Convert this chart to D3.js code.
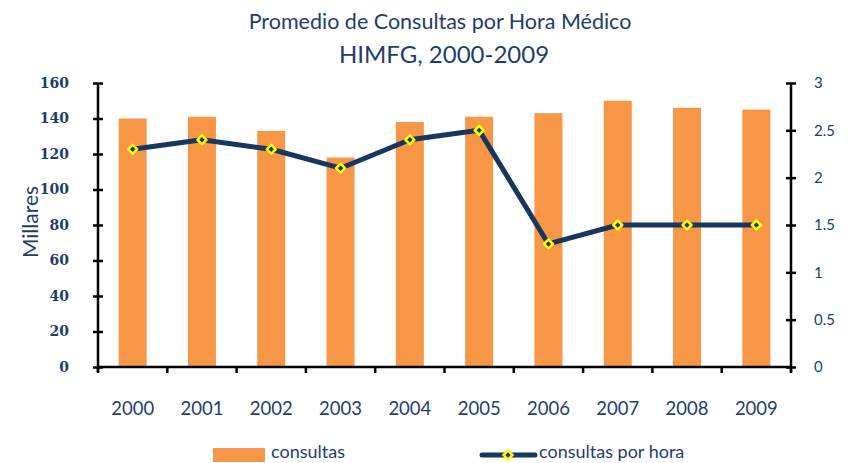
<!DOCTYPE html>
<html>
<head>
<meta charset="utf-8">
<script src="https://cdn.jsdelivr.net/npm/d3@7"></script>
<style>
  body { margin: 0; background: #fff; }
  svg { display: block; }
  .lbl { fill: #1f3d6b; font-family: "Lato", sans-serif; }
</style>
</head>
<body>
<div id="chart"></div>
<script>
// data
var years = ["2000", "2001", "2002", "2003", "2004", "2005", "2006", "2007", "2008", "2009"];
var consultas = [140, 141, 133, 118, 138, 141, 143, 150, 146, 145];  // millares
var porHora = [2.3, 2.4, 2.3, 2.1, 2.4, 2.5, 1.3, 1.5, 1.5, 1.5];
var leftTicks = [0, 20, 40, 60, 80, 100, 120, 140, 160];
var rightTicks = [0, 0.5, 1, 1.5, 2, 2.5, 3];

var width = 858, height = 463;
var plot = { left: 98, right: 791, top: 83, bottom: 367 };

var svg = d3.select("#chart").append("svg")
    .attr("width", width).attr("height", height);

var xb = d3.scaleBand().domain(years).range([plot.left, plot.right]);
var yL = d3.scaleLinear().domain([0, 160]).range([plot.bottom, plot.top]);
var yR = d3.scaleLinear().domain([0, 3]).range([plot.bottom, plot.top]);

function cx(i) { return xb(years[i]) + xb.bandwidth() / 2; }

//bars
svg.append("g").selectAll("rect").data(consultas).enter().append("rect")
    .attr("x", function (d, i) { return cx(i) - 14; })
    .attr("width", 28)
    .attr("y", function (d) { return yL(d); })
    .attr("height", function (d) { return plot.bottom - yL(d); })
    .attr("fill", "#f79646");

//axes
var leftAxis = d3.axisLeft(yL).tickValues(leftTicks).tickSize(5).tickPadding(24);
var gl = svg.append("g").attr("transform", "translate(" + plot.left + ",0)").call(leftAxis);

var rightAxis = d3.axisRight(yR).tickValues(rightTicks).tickSize(5).tickPadding(18)
    .tickFormat(function (d) { return String(d); });
var gr = svg.append("g").attr("transform", "translate(" + plot.right + ",0)").call(rightAxis);

[gl, gr].forEach(function (g) {
    g.select(".domain").attr("stroke", "#000").attr("stroke-width", 2.5)
        .attr("d", "M0," + (plot.bottom + 5) + "V" + plot.top);
    g.selectAll(".tick line").attr("x1", -5).attr("x2", 5)
        .attr("stroke", "#000").attr("stroke-width", 2.5);
    g.selectAll(".tick text").attr("class", "lbl").style("font-size", "15px");
});
gl.selectAll(".tick text").style("font-family", "'DejaVu Serif', serif").style("font-weight", "bold").style("font-size", "14px");

//x axis line and boundary ticks
svg.append("line")
    .attr("x1", plot.left).attr("x2", plot.right)
    .attr("y1", plot.bottom).attr("y2", plot.bottom)
    .attr("stroke", "#000").attr("stroke-width", 2.5);
var bounds = years.map(function (d) { return xb(d); }).concat([plot.right]);
svg.append("g").selectAll("line").data(bounds).enter().append("line")
    .attr("x1", function (d) { return d; }).attr("x2", function (d) { return d; })
    .attr("y1", plot.bottom).attr("y2", plot.bottom + 6)
    .attr("stroke", "#000").attr("stroke-width", 2.5);

svg.append("g").selectAll("text").data(years).enter().append("text")
    .attr("class", "lbl")
    .attr("x", function (d, i) { return cx(i); })
    .attr("y", 415)
    .attr("text-anchor", "middle")
    .style("font-size", "18.5px")
    .text(function (d) { return d; });

//line series
var line = d3.line()
    .x(function (d, i) { return cx(i); })
    .y(function (d) { return yR(d); });

svg.append("path").datum(porHora)
    .attr("d", line)
    .attr("fill", "none")
    .attr("stroke", "#17375e")
    .attr("stroke-width", 5)
    .attr("stroke-linejoin", "round");

var marker = d3.symbol().type(d3.symbolSquare).size(40);
svg.append("g").selectAll("path").data(porHora).enter().append("path")
    .attr("d", marker)
    .attr("transform", function (d, i) {
        return "translate(" + cx(i) + "," + yR(d) + ") rotate(45)";
    })
    .attr("fill", "#17375e")
    .attr("stroke", "#ffff00")
    .attr("stroke-width", 2.5)
    .attr("stroke-linejoin", "round");

//titles
svg.append("text").attr("class", "lbl")
    .attr("x", 440).attr("y", 29).attr("text-anchor", "middle")
    .style("font-size", "21.5px")
    .text("Promedio de Consultas por Hora Médico");
svg.append("text").attr("class", "lbl")
    .attr("x", 444).attr("y", 63).attr("text-anchor", "middle")
    .style("font-size", "24px")
    .text("HIMFG, 2000-2009");

svg.append("text").attr("class", "lbl")
    .attr("transform", "translate(38,222) rotate(-90)")
    .attr("text-anchor", "middle")
    .style("font-size", "21px")
    .text("Millares");

//legend
svg.append("rect").attr("x", 213).attr("y", 448).attr("width", 52).attr("height", 14).attr("fill", "#f79646");
svg.append("text").attr("class", "lbl").attr("x", 271).attr("y", 458).style("font-size", "18px").text("consultas");

svg.append("line").attr("x1", 482).attr("x2", 535).attr("y1", 455).attr("y2", 455)
    .attr("stroke", "#17375e").attr("stroke-width", 5).attr("stroke-linecap", "round");
svg.append("path").attr("d", marker).attr("transform", "translate(508,455) rotate(45)")
    .attr("fill", "#17375e").attr("stroke", "#ffff00").attr("stroke-width", 2.5);
svg.append("text").attr("class", "lbl").attr("x", 539).attr("y", 458).style("font-size", "18px").text("consultas por hora");
</script>
</body>
</html>
